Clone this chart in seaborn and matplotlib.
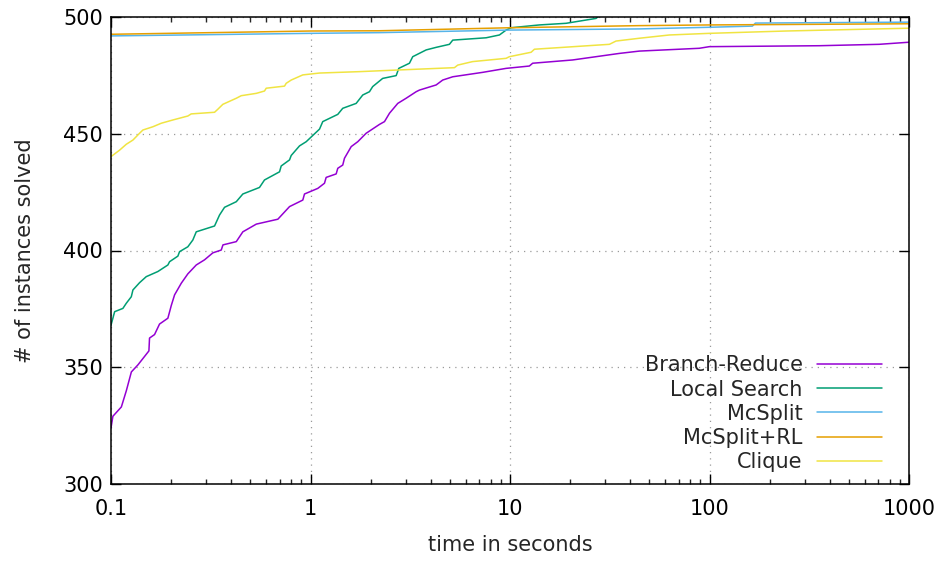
import matplotlib
matplotlib.use("Agg")
import matplotlib.pyplot as plt
import matplotlib.ticker as mticker
import numpy as np
import pandas as pd
import seaborn as sns

# Cumulative number of instances solved versus runtime (seconds), per solver.
br_time = [0.1, 0.1022, 0.1127, 0.1194, 0.1265, 0.1364, 0.1549, 0.156, 0.1653, 0.1751,
           0.1928, 0.2006, 0.2083, 0.2251, 0.2428, 0.2675, 0.2943, 0.324, 0.357, 0.364,
           0.4246, 0.458, 0.535, 0.686, 0.785, 0.915, 0.933, 1.088, 1.175, 1.198,
           1.345, 1.37, 1.451, 1.48, 1.60, 1.726, 1.90, 2.217, 2.349, 2.489,
           2.738, 3.015, 3.385, 3.516, 4.264, 4.60, 5.164, 7.30, 9.56, 12.5,
           12.99, 20.6, 35.3, 44.5, 88.9, 99.8, 355, 709, 1000]
br_solved = [324, 329, 333, 340, 348, 351, 357, 362.5, 364, 368.5,
             371, 376.5, 381, 386, 390, 393.8, 396, 399, 400.2, 402.4,
             403.8, 408, 411.3, 413.4, 418.8, 421.6, 424.2, 426.6, 428.8, 431.3,
             432.8, 435.2, 436.6, 439.5, 444.5, 446.6, 450.2, 454, 455.2, 458.8,
             463, 465.2, 468, 468.7, 470.9, 473, 474.4, 476.3, 478, 479,
             480.2, 481.6, 484.4, 485.4, 486.6, 487.3, 487.7, 488.3, 489.2]

ls_time = [0.1, 0.1043, 0.1147, 0.1193, 0.1264, 0.1288, 0.139, 0.1502, 0.1718, 0.1928,
           0.1966, 0.2164, 0.2206, 0.2428, 0.2572, 0.2675, 0.3304, 0.35, 0.3708, 0.4246,
           0.458, 0.555, 0.588, 0.6995, 0.7131, 0.785, 0.8004, 0.881, 0.9517, 1.11,
           1.152, 1.37, 1.451, 1.694, 1.828, 1.975, 2.05, 2.30, 2.688, 2.77,
           3.133, 3.254, 3.80, 4.264, 4.97, 5.164, 7.59, 8.85, 9.56, 10.13,
           14.03, 19.1, 27.0, 28.0]
ls_solved = [368, 373.8, 375.2, 377.4, 380.2, 383.1, 386.2, 388.8, 391, 393.8,
             395.2, 397.6, 399.5, 401.6, 404.5, 408, 410.5, 415.2, 418.5, 420.9,
             424.2, 427, 430.2, 433.7, 436.2, 438.8, 440.7, 444.8, 446.6, 452,
             455.2, 458.3, 460.9, 463, 466.6, 468, 470.2, 473.7, 474.9, 478,
             480.2, 483, 485.9, 487, 488.3, 490.1, 491.1, 492.3, 494.4, 495.4,
             496.6, 497.3, 499.4, 500.5]

mc_time = [0.1, 1, 2.2, 10, 44.5, 100, 164, 170, 1000]
mc_solved = [491.9, 493, 493.3, 494.4, 494.9, 495.6, 496.1, 497.4, 497.8]

rl_time = [0.1, 1, 2.2, 10, 44.5, 100, 1000]
rl_solved = [492.6, 494, 494.1, 495.4, 496.3, 496.6, 497.1]

cl_time = [0.1, 0.1105, 0.1193, 0.1288, 0.139, 0.1445, 0.1622, 0.1786, 0.2042, 0.2428,
           0.2524, 0.3304, 0.3432, 0.3636, 0.4246, 0.4497, 0.535, 0.588, 0.5998, 0.741,
           0.7553, 0.8004, 0.915, 1.11, 1.76, 2.738, 5.266, 5.47, 6.495, 9.56,
           9.93, 12.76, 13.26, 31.5, 34.0, 44.5, 62.9, 99.8, 241.7, 1000]
cl_solved = [440.2, 443, 445.5, 447.3, 450.2, 451.6, 453, 454.5, 455.9, 457.6,
             458.5, 459.2, 460.5, 462.6, 465.2, 466.3, 467.3, 468.3, 469.5, 470.4,
             471.6, 473, 475.2, 476, 476.6, 477.3, 478.3, 479.4, 480.9, 482.3,
             483, 484.9, 486.2, 488.3, 489.7, 490.9, 492.3, 493, 494, 495.2]

solvers = ["Branch-Reduce", "Local Search", "McSplit", "McSplit+RL", "Clique"]
colors = ["#9400d3", "#009e73", "#56b4e9", "#e69f00", "#f0e442"]
x_ticks = [0.1, 1, 10, 100, 1000]
x_tick_labels = ["0.1", "1", "10", "100", "1000"]
y_ticks = [300, 350, 400, 450, 500]

series = {
    "Branch-Reduce": (br_time, br_solved),
    "Local Search": (ls_time, ls_solved),
    "McSplit": (mc_time, mc_solved),
    "McSplit+RL": (rl_time, rl_solved),
    "Clique": (cl_time, cl_solved),
}
frames = []
for name in solvers:
    t, s = series[name]
    frames.append(pd.DataFrame({"time": t, "solved": s, "solver": name}))
df = pd.concat(frames, ignore_index=True)

FS = 15

sns.set_style("ticks")
plt.rcParams["font.family"] = ["DejaVu Sans"]
plt.rcParams["font.size"] = FS

fig = plt.figure(figsize=(9.44, 5.61), dpi=100)
ax = fig.add_axes([111 / 944, 1 - 484 / 561, (909 - 111) / 944, (484 - 17) / 561])

sns.lineplot(data=df, x="time", y="solved", hue="solver", hue_order=solvers,
             palette=colors, estimator=None, sort=False, linewidth=1.1, ax=ax,
             legend=True)

ax.set_xscale("log")
ax.set_xlim(0.1, 1000)
ax.set_ylim(300, 500)
ax.set_xticks(x_ticks)
ax.set_xticklabels(x_tick_labels)
ax.xaxis.set_minor_locator(mticker.LogLocator(base=10, subs=np.arange(2, 10)))
ax.xaxis.set_minor_formatter(mticker.NullFormatter())
ax.set_yticks(y_ticks)
ax.yaxis.set_minor_locator(mticker.NullLocator())

ax.tick_params(which="major", direction="in", top=True, right=True,
               length=7.5, width=1.0, labelsize=FS, colors="black")
ax.tick_params(axis="x", which="major", pad=11)
ax.tick_params(axis="y", which="major", pad=6)
ax.tick_params(which="minor", direction="in", top=True, right=True,
               length=3.8, width=1.0)

ax.grid(True, which="major", linestyle=(0, (1, 4)), color="#9a9a9a", linewidth=0.9)
for sp in ax.spines.values():
    sp.set_linewidth(1.1)
    sp.set_color("black")

ax.set_xlabel("time in seconds", fontsize=FS, labelpad=11)
ax.set_ylabel("# of instances solved", fontsize=FS, labelpad=20)

handles, labels = ax.get_legend_handles_labels()
ax.legend(handles, labels, loc="lower right", markerfirst=False, frameon=False,
          fontsize=FS, handlelength=3.1, handletextpad=0.7, labelspacing=0.2,
          borderpad=0, borderaxespad=0,
          bbox_to_anchor=((882 - 111) / 798, (484 - 472) / 467))

fig.savefig("out.png", dpi=100)
